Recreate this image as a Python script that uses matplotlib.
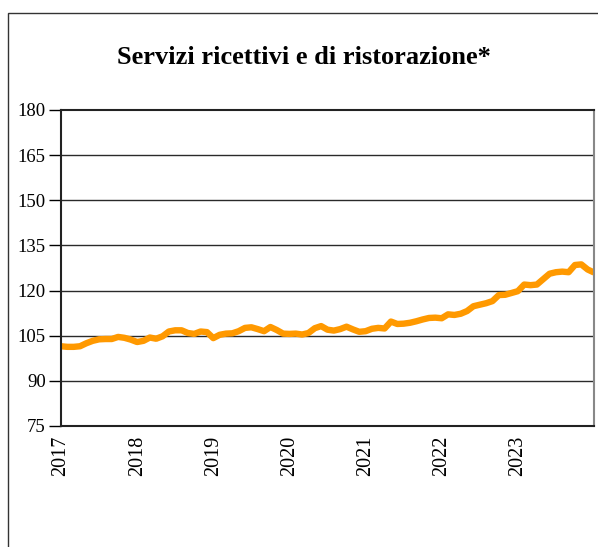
import numpy as np
import matplotlib.pyplot as plt
from matplotlib.patches import Rectangle

plt.rcParams['font.family'] = ['Liberation Serif', 'DejaVu Serif']

title = "Servizi ricettivi e di ristorazione*"
years = ["2017", "2018", "2019", "2020", "2021", "2022", "2023"]
# monthly index, Jan 2017 .. Jan 2024
values = [101.5, 101.3, 101.3, 101.5, 102.5, 103.3, 103.8, 103.9, 103.9, 104.6, 104.3, 103.7,
          102.9, 103.3, 104.4, 104.0, 104.8, 106.4, 106.8, 106.8, 105.9, 105.6, 106.4, 106.2,
          104.2, 105.3, 105.7, 105.8, 106.5, 107.6, 107.8, 107.2, 106.5, 107.9, 106.9, 105.7,
          105.6, 105.7, 105.4, 105.9, 107.5, 108.2, 107.0, 106.7, 107.2, 108.0, 107.1, 106.3,
          106.5, 107.3, 107.6, 107.4, 109.7, 108.9, 109.0, 109.3, 109.8, 110.4, 110.9, 111.0,
          110.8, 112.1, 111.9, 112.3, 113.2, 114.8, 115.3, 115.8, 116.5, 118.5, 118.6, 119.2,
          119.8, 122.0, 121.8, 122.0, 123.8, 125.6, 126.1, 126.3, 126.1, 128.5, 128.7, 127.0,
          126.0]
yticks = [75, 90, 105, 120, 135, 150, 165, 180]

fig = plt.figure(figsize=(5.98, 5.47), dpi=100)

# outer chart frame
fig.patches.append(Rectangle((8 / 598, -0.1), 1.0, 1.1 - 13 / 547,
                             transform=fig.transFigure, fill=False,
                             edgecolor='#333333', linewidth=1.0))

ax = fig.add_axes([61 / 598, 1 - 426 / 547, 533 / 598, 316 / 547])

x = np.arange(len(values))
ax.plot(x, values, color='#FF9900', linewidth=4.6, solid_joinstyle='round',
        solid_capstyle='butt')

ax.set_xlim(0, 84)
ax.set_ylim(75, 180)
ax.set_yticks(yticks)
ax.set_yticklabels([str(v) for v in yticks], fontsize=13.5)
ax.set_xticks(np.arange(len(years)) * 12)
ax.set_xticklabels(years, rotation=90, fontsize=14.5)
ax.tick_params(axis='y', direction='out', length=9, width=1, pad=2, color='black')
ax.tick_params(axis='x', length=0, pad=7)

for v in yticks[1:-1]:
    ax.axhline(v, color='#2a2a2a', linewidth=1.0, zorder=0)

for side in ['left', 'bottom', 'top']:
    ax.spines[side].set_linewidth(1.5)
    ax.spines[side].set_color('#222222')
ax.spines['right'].set_linewidth(1.5)
ax.spines['right'].set_color('#888888')

fig.text(304 / 598, 1 - 58 / 547, title, ha='center', va='center',
         fontsize=19, fontweight='bold')

fig.savefig('out.png', dpi=100)
